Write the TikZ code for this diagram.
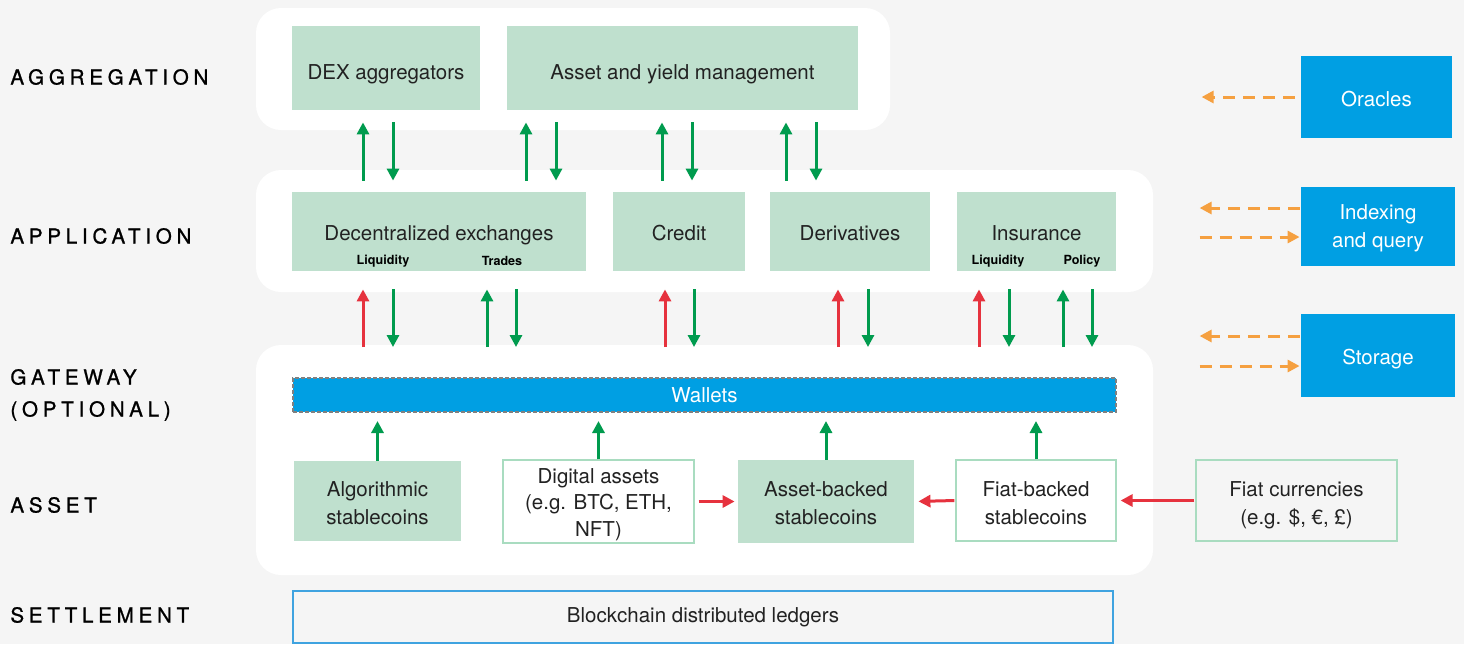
\documentclass[tikz,border=0pt]{standalone}
\usepackage{fontspec}
\setmainfont{TeX Gyre Heros}
\newfontfamily\layerfont[LetterSpace=23,FakeBold=1]{TeX Gyre Heros}
\usetikzlibrary{arrows.meta,calc}

\definecolor{bggray}{HTML}{F5F5F5}
\definecolor{boxgreen}{HTML}{BFE0CE}
\definecolor{boxline}{HTML}{A9DCC0}
\definecolor{arrgreen}{HTML}{009B4E}
\definecolor{arrred}{HTML}{E6323E}
\definecolor{layerblue}{HTML}{009FE3}
\definecolor{chainline}{HTML}{3FA3E0}
\definecolor{arrorange}{HTML}{F5A040}
\definecolor{textdark}{HTML}{222222}

\begin{document}
\begin{tikzpicture}[x=0.5pt, y=-0.5pt,
          panel/.style={fill=white, rounded corners=12.5pt},
          gbox/.style={fill=boxgreen, text=textdark, align=center, inner sep=0pt,
                       font=\fontsize{10.25}{14}\selectfont},
          wbox/.style={gbox, fill=white, draw=boxline, line width=0.6pt},
          bluebox/.style={gbox, fill=layerblue, text=white},
          appbox/.style={gbox, minimum height=39.5pt, text height=11.5pt, text depth=2.5pt},
          layer/.style={anchor=west, align=left, text=black, inner sep=0pt,
                        font=\layerfont\fontsize{10.3}{16}\selectfont},
          sublabel/.style={text=black, inner sep=0pt, font=\bfseries\fontsize{6.3}{7}\selectfont},
          grnarr/.style={draw=arrgreen, line width=1.5pt, -{Triangle[width=6pt,length=6pt]}},
          redarr/.style={grnarr, draw=arrred},
          orarr/.style={draw=arrorange, line width=1.5pt, dash pattern=on 6pt off 4pt,
                        -{Triangle[width=6pt,length=6pt]}}]
          \fill[bggray] (0,0) rectangle (1464,644);
          \useasboundingbox (0,0) rectangle (1464,644);
          % layer panels
          \fill[panel] (256,8) rectangle (890,130);
          \fill[panel] (256,170) rectangle (1153,292);
          \fill[panel] (256,345) rectangle (1153,575);
          % layer names
          \node[layer] (laggr) at (10,77) {AGGREGATION};
          \node[layer] (lappl) at (10,236) {APPLICATION};
          \node[layer] (lgate) at (10,395) {GATEWAY\\(OPTIONAL)};
          \node[layer] (lasset) at (10,505) {ASSET};
          \node[layer] (lsettle) at (10,615) {SETTLEMENT};
          % aggregation
          \node[gbox, minimum width=94pt, minimum height=42pt, text height=13.7pt, text depth=2pt]
              (dexagg) at (386,68) {DEX aggregators};
          \node[gbox, minimum width=175.5pt, minimum height=42pt, text height=13.7pt, text depth=2pt]
              (assetyield) at (682.5,68) {Asset and yield management};
          % application
          \node[appbox, minimum width=147pt] (decex) at (439,231.5) {Decentralized exchanges};
          \node[appbox, minimum width=66pt] (credit) at (679,231.5) {Credit};
          \node[appbox, minimum width=80pt] (deriv) at (850,231.5) {Derivatives};
          \node[appbox, minimum width=79.5pt] (insur) at (1036.5,231.5) {Insurance};
          \node[sublabel] (dexliq) at (383,261) {Liquidity};
          \node[sublabel] (dextrade) at (502,261) {Trades};
          \node[sublabel] (insliq) at (998,261) {Liquidity};
          \node[sublabel] (inspol) at (1082,261) {Policy};
          % gateway
          \node[bluebox, minimum width=411.5pt, minimum height=17pt, draw=gray, line width=1pt,
                dash pattern=on 2pt off 1pt] (wallets) at (704.5,395) {Wallets};
          % asset
          \node[gbox, minimum width=83.5pt, minimum height=40pt, text height=23.5pt]
              (algo) at (377.5,501) {Algorithmic\\stablecoins};
          \node[wbox, minimum width=95.5pt, minimum height=41.5pt, text height=37pt,
                font=\fontsize{10.25}{13.3}\selectfont]
              (digital) at (598.5,501.5) {Digital assets\\(e.g. BTC, ETH,\\NFT)};
          \node[gbox, minimum width=88pt, minimum height=41.5pt, text height=23.5pt]
              (assetback) at (826,501.5) {Asset-backed\\stablecoins};
          \node[wbox, minimum width=80pt, minimum height=40.5pt, text height=24.5pt]
              (fiatback) at (1036,500.5) {Fiat-backed\\stablecoins};
          \node[wbox, fill=bggray, minimum width=100.5pt, minimum height=40.5pt, text height=26pt]
              (fiatcur) at (1296.5,500.5) {Fiat currencies\\(e.g. \$, €, £)};
          % settlement
          \node[gbox, fill=bggray, draw=chainline, line width=0.6pt, minimum width=410pt, minimum height=26pt]
              (chain) at (703,617) {Blockchain distributed ledgers};
          % services
          \node[bluebox, minimum width=75.5pt, minimum height=41pt, text height=11pt, text depth=2pt]
              (oracles) at (1376.5,97) {Oracles};
          \node[bluebox, minimum width=77pt, minimum height=39.5pt, text height=23.5pt]
              (index) at (1378,226.5) {Indexing\\and query};
          \node[bluebox, minimum width=77pt, minimum height=41.5pt, text height=11pt, text depth=2pt]
              (storage) at (1378,355.5) {Storage};
          % aggregation <-> application
          \foreach \x in {363,526,662,786}
              \draw[grnarr] ($(\x,0 |- decex.north)+(0,-11)$) -- ($(\x,0 |- dexagg.south)+(0,12)$);
          \foreach \x in {393,556,692,816}
              \draw[grnarr] ($(\x,0 |- dexagg.south)+(0,12)$) -- ($(\x,0 |- decex.north)+(0,-11)$);
          % application <-> gateway
          \foreach \x/\c in {363/redarr,487/grnarr,665/redarr,838/redarr,979/redarr,1063/grnarr}
              \draw[\c] ($(\x,0 |- wallets.north)+(0,-30)$) -- ($(\x,0 |- credit.south)+(0,18)$);
          \foreach \x in {393,516,694,868,1009,1092}
              \draw[grnarr] ($(\x,0 |- credit.south)+(0,18)$) -- ($(\x,0 |- wallets.north)+(0,-30)$);
          % asset -> wallets
          \foreach \n in {algo,digital,assetback,fiatback}
              \draw[grnarr, shorten >=4pt] (\n.north) -- (\n.north |- wallets.south);
          \draw[redarr, shorten <=2pt, shorten >=1.5pt] (digital.east) -- (assetback.west);
          \draw[redarr, shorten <=0.5pt, shorten >=2pt] (fiatback.west) -- (assetback.east);
          \draw[redarr, shorten <=0.5pt, shorten >=2pt] (fiatcur.west) -- (fiatback.east);
          % services
          \draw[orarr, shorten <=3pt] (oracles.west) -- ++(-99,0);
          \draw[orarr] ($(index.west)+(-1,-18.5)$) -- ++(-100,0);
          \draw[orarr] ($(index.west)+(-101,10.5)$) -- ++(100,0);
          \draw[orarr] ($(storage.west)+(-1,-19.5)$) -- ++(-100,0);
          \draw[orarr] ($(storage.west)+(-101,10.5)$) -- ++(100,0);
      \end{tikzpicture}
\end{document}
